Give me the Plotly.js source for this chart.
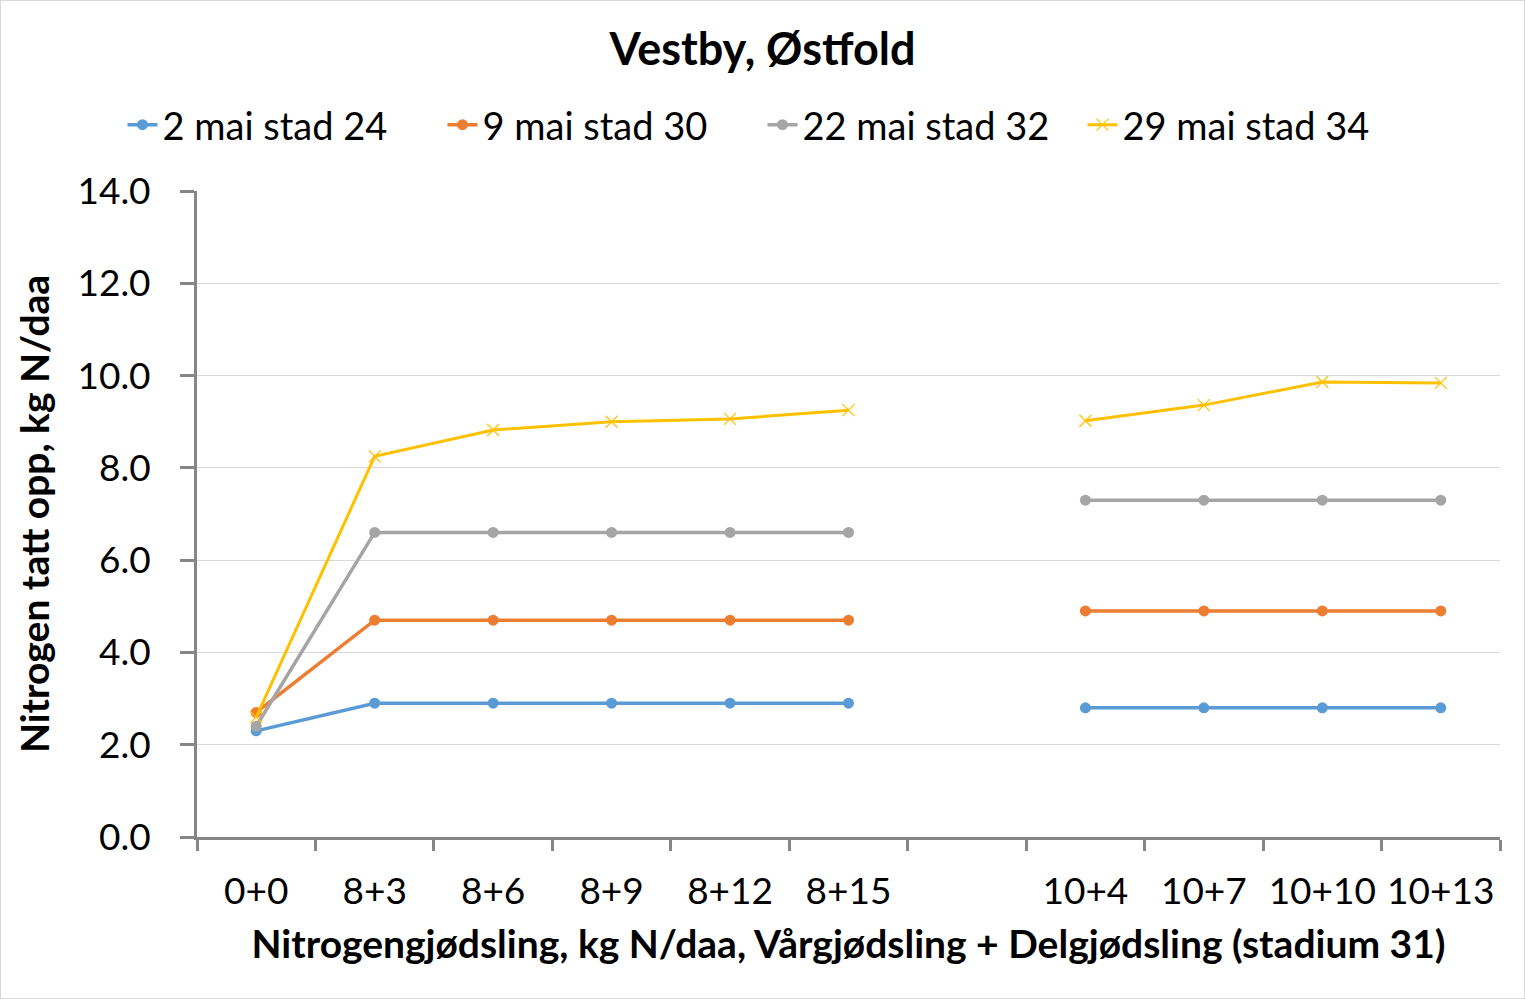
<!DOCTYPE html>
<html>
<head>
<meta charset="utf-8">
<script src="https://cdn.plot.ly/plotly-3.0.1.min.js"></script>
<style>
  body { margin: 0; background: #fff; }
  #wrap { width: 1523px; height: 997px; border: 1px solid #d9d9d9; }
  #plot { width: 1523px; height: 997px; }
</style>
</head>
<body>
<div id="wrap"><div id="plot"></div></div>
<script>
// categories (the blank one separates the two groups of treatments)
var categories = ["0+0", "8+3", "8+6", "8+9", "8+12", "8+15", " ", "10+4", "10+7", "10+10", "10+13"];

// nitrogen uptake, kg N/daa
var mai2 = [2.3, 2.9, 2.9, 2.9, 2.9, 2.9, null, 2.8, 2.8, 2.8, 2.8];
var mai9 = [2.7, 4.7, 4.7, 4.7, 4.7, 4.7, null, 4.9, 4.9, 4.9, 4.9];
var mai22 = [2.4, 6.6, 6.6, 6.6, 6.6, 6.6, null, 7.3, 7.3, 7.3, 7.3];
var mai29 = [2.6, 8.25, 8.82, 9.0, 9.06, 9.25, null, 9.02, 9.36, 9.86, 9.84];

var names = ["2 mai stad 24", "9 mai stad 30", "22 mai stad 32", "29 mai stad 34"];
var colors = ["#5B9BD5", "#ED7D31", "#A5A5A5", "#FFC000"];

var font = "Lato, 'Open Sans', sans-serif";

function dotTrace(y, i) {
    return {
        x: categories,
        y: y,
        name: names[i],
        type: "scatter",
        mode: "lines+markers",
        connectgaps: false,
        line: {color: colors[i], width: 3.5},
        marker: {symbol: "circle", size: 11, color: colors[i]}
    };
}

var trace1 = dotTrace(mai2, 0);
var trace2 = dotTrace(mai9, 1);
var trace3 = dotTrace(mai22, 2);

// the last one uses thin crosses
var trace4 = {
    x: categories,
    y: mai29,
    name: names[3],
    type: "scatter",
    mode: "lines+markers",
    connectgaps: false,
    line: {color: colors[3], width: 3},
    marker: {symbol: "x-thin-open", size: 12, color: colors[3], line: {color: colors[3], width: 1.2}}
};

var data = [trace1, trace2, trace3, trace4];

var layout = {
    width: 1523,
    height: 997,
    margin: {l: 196, r: 24, t: 190, b: 161},
    paper_bgcolor: "#fff",
    plot_bgcolor: "#fff",
    font: {family: font, color: "#000", size: 37},
    title: {
        text: "<b>Vestby, Østfold</b>",
        font: {family: font, size: 45, color: "#000"},
        x: 0.5, xref: "container", xanchor: "center",
        y: 1 - 48 / 997, yref: "container", yanchor: "middle"
    },
    showlegend: true,
    legend: {
        orientation: "h",
        xref: "container", x: 0.5, xanchor: "center",
        yref: "container", y: 1 - 124 / 997, yanchor: "middle",
        font: {family: font, size: 38, color: "#000"},
        entrywidth: 275,
        entrywidthmode: "pixels",
        bgcolor: "rgba(0,0,0,0)"
    },
    xaxis: {
        type: "category",
        categoryorder: "array",
        categoryarray: categories,
        range: [-0.5, categories.length - 0.5],
        showgrid: false,
        zeroline: false,
        showline: true,
        linecolor: "#868686",
        linewidth: 3,
        ticks: "outside",
        tickson: "boundaries",
        ticklen: 11,
        tickwidth: 3,
        tickcolor: "#868686",
        tickfont: {family: font, size: 37, color: "#000"},
        ticklabelstandoff: 20,
        title: {
            text: "<b>Nitrogengjødsling, kg N/daa, Vårgjødsling + Delgjødsling (stadium 31)</b>",
            font: {family: font, size: 39, color: "#000"},
            standoff: 20
        },
        automargin: false,
        fixedrange: true
    },
    yaxis: {
        range: [0, 14],
        dtick: 2,
        tickformat: ".1f",
        showgrid: true,
        gridcolor: "#d9d9d9",
        gridwidth: 1,
        zeroline: false,
        showline: true,
        linecolor: "#868686",
        linewidth: 3,
        ticks: "outside",
        ticklen: 14,
        tickwidth: 3,
        tickcolor: "#868686",
        tickfont: {family: font, size: 37, color: "#000"},
        ticklabelstandoff: 22,
        title: {
            text: "<b>Nitrogen tatt opp, kg N/daa</b>",
            font: {family: font, size: 39, color: "#000"},
            standoff: 16
        },
        automargin: false,
        fixedrange: true
    }
};

Plotly.newPlot("plot", data, layout, {displayModeBar: false, staticPlot: true});
</script>
</body>
</html>
